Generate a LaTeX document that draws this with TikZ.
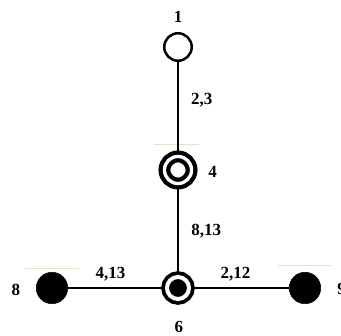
\documentclass[tikz,border=0pt]{standalone}
\usepackage{fontspec}
\setmainfont{Liberation Serif}
\usepackage{tikz}
\usepackage{xcolor}
\usetikzlibrary{positioning,calc}
\definecolor{paleTan}{RGB}{232,224,204}

\begin{document}
\begin{tikzpicture}[
            x=1pt, y=-1pt,
            vertex/.style={circle, draw, inner sep=0pt},
            plain/.style={vertex, fill=white, line width=2.5pt, minimum size=27.5pt},
            ringed/.style={vertex, fill=white, line width=4.3pt, double=white, double distance=3.3pt, minimum size=27.1pt},
            cored/.style={vertex, fill=black, line width=3.75pt, double=white, double distance=4pt, minimum size=22pt},
            solid/.style={vertex, fill=black, line width=0.5pt, minimum size=31.5pt},
            txt/.style={inner sep=0pt, font=\fontsize{17}{20}\selectfont\bfseries},
            edge/.style={line width=1.5pt}
        ]
            \useasboundingbox (0,0) rectangle (341,336);

            \draw[paleTan, line width=1pt] (154,144.3) -- (199,144.3);
            \draw[paleTan, line width=1pt] (25,268.3) -- (79,268.3);
            \draw[paleTan, line width=1pt] (278,266) -- (332,266);

            \node[plain] (n1) at (178,47) {};
            \node[ringed] (n4) at (178,170) {};
            \node[cored] (n6) at (178,288) {};
            \node[solid] (n8) at (52,288) {};
            \node[solid] (n9) at (305,288) {};

            \draw[edge] (n1) -- (n4);
            \draw[edge] (n4) -- (n6);
            \draw[edge] (n8) -- (n6);
            \draw[edge] (n6) -- (n9);

            \node[txt] (t1) at (178,16.5) {1};
            \node[txt] (t4) at (212.5,171.5) {4};
            \node[txt] (t6) at (179,326.5) {6};
            \node[txt] (t8) at (16,289.5) {8};
            \node[txt, anchor=west] (t9) at (337.3,289) {9};

            \node[txt] (e14) at (201.7,100.5) {2,3};
            \node[txt] (e46) at (206.3,231.3) {8,13};
            \node[txt] (e86) at (110.5,274.3) {4,13};
            \node[txt] (e69) at (235.5,274.3) {2,12};
        \end{tikzpicture}
\end{document}
